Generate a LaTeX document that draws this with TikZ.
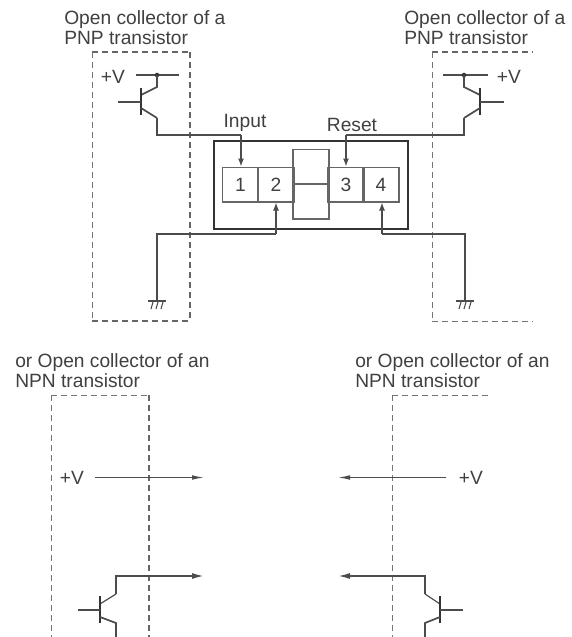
\documentclass[tikz,border=0pt]{standalone}
\usepackage{fontspec}
\setmainfont{Liberation Sans}
\usetikzlibrary{positioning,arrows.meta}

\tikzset{
	title/.style={anchor=west,align=left,inner sep=0pt,text=black!75,font=\fontsize{14.4}{15}\selectfont},
	label/.style={inner sep=0pt,text=black!75,font=\fontsize{14.4}{15}\selectfont},
	wire/.style={draw=black!70,line width=0.9pt},
	tip/.style={wire,-{Latex[length=6pt,width=4.5pt]}},
	longtip/.style={wire,-{Latex[length=9pt,width=3.5pt]}},
	boldtip/.style={wire,line width=1.3pt,-{Latex[length=9pt,width=4.5pt]}},
	bar/.style={draw=black!80,line width=1.5pt},
	thindash/.style={draw=black!55,line width=0.6pt,dash pattern=on 4.5pt off 3pt},
	thickdash/.style={draw=black!60,line width=1.3pt,dash pattern=on 4.5pt off 3pt},
	cell/.style={draw=black!60,line width=1pt,minimum width=27pt,minimum height=26pt,inner sep=0pt,text=black!75,font=\fontsize{14.4}{15}\selectfont},
	relay/.style={draw=black!60,line width=1pt,minimum width=27pt,minimum height=26pt,inner sep=0pt}
}

\begin{document}
\begin{tikzpicture}[x=0.75pt,y=-0.75pt]

		\useasboundingbox (0,0) rectangle (572,637);
		\clip (0,0) rectangle (572,637);

		% Relay
		\node[draw=black!80,line width=1.7pt,minimum width=145pt,minimum height=66pt,inner sep=0pt] (relaybox) at (311,185) {};
		\node[relay] (relaytop) at (311,166.5) {};
		\node[relay] (relaybot) at (311,201.5) {};
		\node[cell] (term1) at (240.5,184.5) {1};
		\node[cell] (term2) at (276,184.5) {2};
		\node[cell] (term3) at (346,184.5) {3};
		\node[cell] (term4) at (381,184.5) {4};

		% Titles
		\node[title] (titleA) at (64,28) {Open collector of a\\PNP transistor};
		\node[title] (titleB) at (404,28) {Open collector of a\\PNP transistor};
		\node[title] (titleC) at (15,371) {or Open collector of an\\NPN transistor};
		\node[title] (titleD) at (355,371) {or Open collector of an\\NPN transistor};

		% Dashed frames
		\draw[thickdash] (92,52) -- (190,52);
		\draw[thindash] (92,52) -- (92,321);
		\draw[thickdash] (190,52) -- (190,321);
		\draw[thickdash] (92,321) -- (190,321);
		\draw[thickdash] (432,52) -- (533,52);
		\draw[thindash] (432,52) -- (432,321);
		\draw[thindash] (432,321) -- (533,321);
		\draw[thindash] (51,395) -- (149,395);
		\draw[thindash] (51,395) -- (51,637);
		\draw[thickdash] (149,395) -- (149,637);
		\draw[thindash] (392,395) -- (492,395);
		\draw[thindash] (392,395) -- (392,637);

		% Labels
		\node[label] (inputlab) at (245,123) {Input};
		\node[label] (resetlab) at (352,125) {Reset};
		\node[label] (vA) at (113,77) {+V};
		\node[label] (vB) at (509,77) {+V};
		\node[label] (vC) at (72,478) {+V};
		\node[label] (vD) at (471,478) {+V};

		% PNP transistor, left
		\coordinate (railAl) at (136,75);
		\coordinate (railAr) at (179,75);
		\coordinate (tapA) at (157,75);
		\coordinate (bendA) at (157,118);
		\coordinate (outA) at (157,135);
		\coordinate (inA) at (241,135);
		\draw[wire] (railAl) -- (railAr);
		\fill[black!80] (tapA) circle (1.7pt);
		\draw[wire,line width=1.3pt] (tapA) -- (157,87) -- (141,95);
		\draw[bar] (141,88) -- (141,115);
		\draw[wire] (118,102) -- (141,102);
		\draw[wire,line width=1.3pt] (141,108) -- (bendA);
		\draw[wire] (bendA) -- (outA) -- (inA);
		\draw[tip] (inA) -- (inA |- term1.north);

		% PNP transistor, right
		\coordinate (railBl) at (443,75);
		\coordinate (railBr) at (488,75);
		\coordinate (tapB) at (464,75);
		\coordinate (bendB) at (464,118);
		\coordinate (outB) at (464,135);
		\coordinate (inB) at (346,135);
		\draw[wire] (railBl) -- (railBr);
		\fill[black!80] (tapB) circle (1.7pt);
		\draw[wire,line width=1.3pt] (tapB) -- (464,87) -- (480,95);
		\draw[bar] (480,88) -- (480,115);
		\draw[wire] (480,102) -- (504,102);
		\draw[wire,line width=1.3pt] (480,108) -- (bendB);
		\draw[wire] (bendB) -- (outB) -- (inB);
		\draw[tip] (inB) -- (inB |- term3.north);

		% Grounds
		\coordinate (gndA) at (157,301);
		\coordinate (gndB) at (465,301);
		\coordinate (cornerA) at (157,234);
		\coordinate (cornerB) at (465,234);
		\coordinate (inC) at (276,234);
		\coordinate (inD) at (382,234);
		\draw[wire] (gndA) -- (cornerA) -- (inC);
		\draw[tip] (inC) -- (inC |- term2.south);
		\draw[wire] (gndB) -- (cornerB) -- (inD);
		\draw[tip] (inD) -- (inD |- term4.south);
		\foreach \gx in {157,465} {
			\draw[wire,line width=1.2pt] (\gx-9,301) -- (\gx+9,301);
			\draw[wire,line width=0.8pt] (\gx-6,309) -- (\gx-4,302) (\gx-1,309) -- (\gx+1,302) (\gx+4,309) -- (\gx+6,302);
		}

		% NPN supply arrows
		\coordinate (railCl) at (95,477.5);
		\coordinate (railCr) at (204,477.5);
		\coordinate (railDl) at (338,477.5);
		\coordinate (railDr) at (446,477.5);
		\draw[longtip] (railCl) -- (railCr);
		\draw[longtip] (railDr) -- (railDl);

		% NPN transistor, left
		\coordinate (outCl) at (116,576);
		\coordinate (outCr) at (204,576);
		\draw[boldtip] (116,594) -- (outCl) -- (outCr);
		\draw[wire] (100,604) -- (116,594);
		\draw[bar] (100,596) -- (100,623);
		\draw[wire] (78,610) -- (100,610);
		\draw[wire,line width=1.3pt] (100,617) -- (116,623) -- (116,637);

		% NPN transistor, right
		\coordinate (outDl) at (338,576);
		\coordinate (outDr) at (425,576);
		\draw[boldtip] (425,594) -- (outDr) -- (outDl);
		\draw[wire] (440,604) -- (425,594);
		\draw[bar] (440,596) -- (440,623);
		\draw[wire] (440,610) -- (463,610);
		\draw[wire,line width=1.3pt] (440,617) -- (425,623) -- (425,637);

	\end{tikzpicture}
\end{document}
